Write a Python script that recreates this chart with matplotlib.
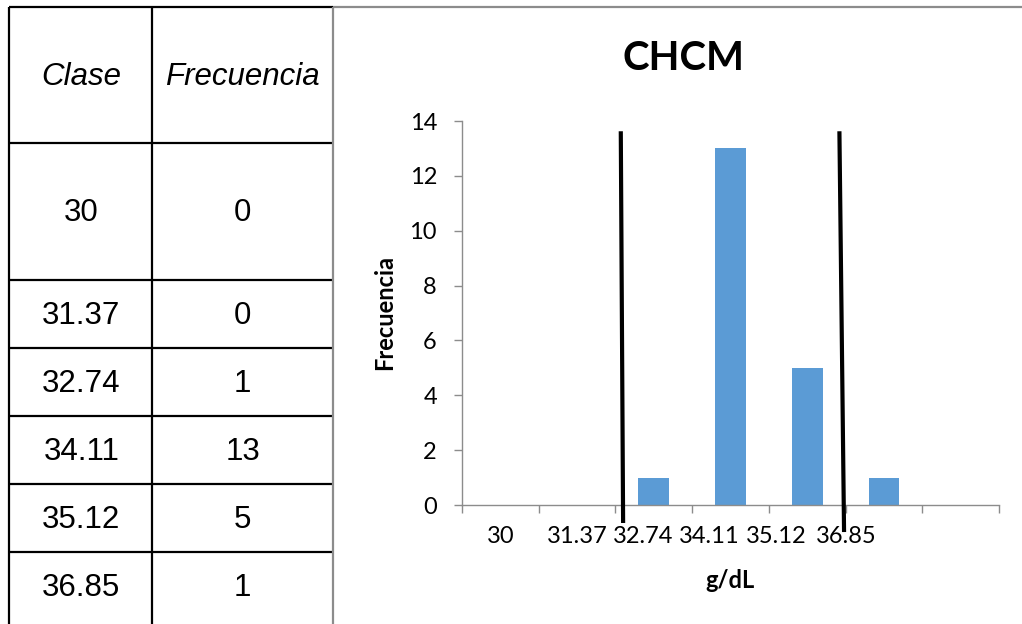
import matplotlib
matplotlib.use("Agg")
import matplotlib.pyplot as plt
import numpy as np

# ---- data ----
clases = ["30", "31.37", "32.74", "34.11", "35.12", "36.85"]
frecuencias = [0, 0, 1, 13, 5, 1]
extra_categoria = [0]          # empty last category of the histogram
limite_inf_x = [2.07, 2.10]    # hand-drawn limit lines (category units)
limite_inf_y = [13.55, -0.58]
limite_sup_x = [4.92, 4.98]
limite_sup_y = [13.55, -0.91]
y_ticks = [0, 2, 4, 6, 8, 10, 12, 14]

W, H = 1022, 624
fig = plt.figure(figsize=(W / 100, H / 100), dpi=100)

# ---- overlay for table and frame (pixel coordinates) ----
ov = fig.add_axes([0, 0, 1, 1])
ov.set_xlim(0, W)
ov.set_ylim(H, 0)
ov.axis("off")

tbl_font = "Liberation Sans"
lw_tbl = 1.6
x_left, x_mid, x_right = 8.5, 152, 333
row_lines = [7, 143, 280, 348, 416, 484, 552]
for y in row_lines:
    ov.plot([x_left, x_right], [y, y], color="black", lw=lw_tbl, solid_capstyle="butt")
for x in (x_left, x_mid):
    ov.plot([x, x], [7, H], color="black", lw=lw_tbl, solid_capstyle="butt")
# chart frame (grey)
ov.plot([x_right, W], [7, 7], color="#8c8c8c", lw=1.6, solid_capstyle="butt")
ov.plot([x_right, x_right], [7, H], color="#8c8c8c", lw=1.6, solid_capstyle="butt")

c1 = (x_left + x_mid) / 2 + 1
c2 = (x_mid + x_right) / 2
ov.text(c1, 77, "Clase", ha="center", va="center", fontsize=22.5, style="italic", family=tbl_font)
ov.text(c2, 77, "Frecuencia", ha="center", va="center", fontsize=22.5, style="italic", family=tbl_font)
centers = [213, 316, 384, 452, 520, 588]
for yc, c, f in zip(centers, clases, frecuencias):
    ov.text(c1, yc, c, ha="center", va="center", fontsize=22.5, family=tbl_font)
    ov.text(c2, yc, str(f), ha="center", va="center", fontsize=22.5, family=tbl_font)

# ---- chart ----
chart_font = "Lato"
ax = fig.add_axes([462 / W, (H - 505) / H, 537 / W, 384 / H])
vals = frecuencias + extra_categoria
pos = np.arange(len(vals)) + 0.5
ax.bar(pos, vals, width=0.4, color="#5B9BD5", zorder=2)
ax.set_xlim(0, len(vals))
ax.set_ylim(0, 14)

for s in ("top", "right"):
    ax.spines[s].set_visible(False)
for s in ("left", "bottom"):
    ax.spines[s].set_color("#8c8c8c")
    ax.spines[s].set_linewidth(1.0)

ax.set_yticks(y_ticks)
ax.set_yticklabels([str(v) for v in y_ticks], fontsize=17, family=chart_font)
ax.tick_params(axis="y", length=6, color="#8c8c8c", pad=12, width=1.0)

ax.set_xticks(np.arange(len(vals) + 1))
ax.set_xticklabels([])
ax.tick_params(axis="x", which="major", length=6, color="#8c8c8c", width=1.0)
label_pos = [0.50, 1.50, 2.36, 3.22, 4.09, 5.01]
ax.set_xticks(label_pos, minor=True)
ax.set_xticklabels(clases, minor=True, fontsize=17, family=chart_font)
ax.tick_params(axis="x", which="minor", length=0, pad=15)

ax.plot(limite_inf_x, limite_inf_y, color="black", lw=3, clip_on=False, zorder=3)
ax.plot(limite_sup_x, limite_sup_y, color="black", lw=3, clip_on=False, zorder=3)

fig.text(683 / W, 1 - 58 / H, "CHCM", ha="center", va="center", fontsize=29,
         fontweight="bold", family=chart_font)
fig.text(385 / W, 1 - 313 / H, "Frecuencia", ha="center", va="center", rotation=90,
         fontsize=17, fontweight="bold", family=chart_font)
fig.text(730 / W, 1 - 580 / H, "g/dL", ha="center", va="center", fontsize=17,
         fontweight="bold", family=chart_font)

fig.savefig("out.png", dpi=100)
